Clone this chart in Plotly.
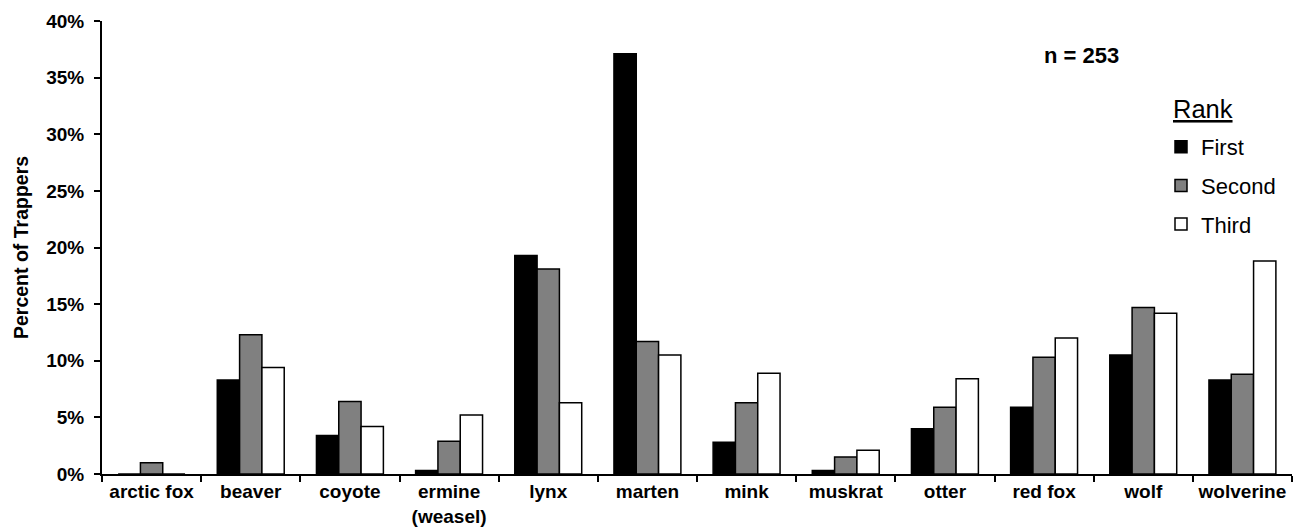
import plotly.graph_objects as go

categories = ["arctic fox", "beaver", "coyote", "ermine<br>(weasel)", "lynx", "marten",
              "mink", "muskrat", "otter", "red fox", "wolf", "wolverine"]
first = [0.0, 8.3, 3.4, 0.3, 19.3, 37.1, 2.8, 0.3, 4.0, 5.9, 10.5, 8.3]
second = [1.0, 12.3, 6.4, 2.9, 18.1, 11.7, 6.3, 1.5, 5.9, 10.3, 14.7, 8.8]
third = [0.0, 9.4, 4.2, 5.2, 6.3, 10.5, 8.9, 2.1, 8.4, 12.0, 14.2, 18.8]
series_names = ["First", "Second", "Third"]
series_colors = ["#000000", "#808080", "#ffffff"]

fig = go.Figure()
for name, vals, col in zip(series_names, [first, second, third], series_colors):
    fig.add_trace(go.Bar(
        x=categories, y=[v / 100 for v in vals], name=name,
        marker=dict(color=col, line=dict(color="#000000", width=1.5)),
        legendgroup=name,
    ))

font_family = "Liberation Sans, Arial, sans-serif"
L, R, T, B = 102, 4, 21, 55
W, H = 1296, 529
pw, ph = W - L - R, H - T - B

def px_x(x):
    return (x - L) / pw

def px_y(y):
    return (H - B - y) / ph

fig.update_layout(
    width=W, height=H,
    margin=dict(l=L, r=R, t=T, b=B, autoexpand=False),
    paper_bgcolor="white", plot_bgcolor="white",
    barmode="group", bargap=0.325, bargroupgap=0,
    font=dict(family=font_family, color="black"),
    showlegend=True,
    legend=dict(
        font=dict(size=22, family=font_family),
        x=px_x(1161), xanchor="left", y=px_y(126), yanchor="top",
        tracegroupgap=7, bgcolor="rgba(0,0,0,0)",
        itemwidth=30,
    ),
    xaxis=dict(
        type="category", showline=True, linecolor="black", linewidth=2,
        ticks="outside", tickson="boundaries", ticklen=6, tickwidth=2, tickcolor="black",
        tickfont=dict(size=19, family=font_family, weight="bold"),
        tickangle=0, automargin=False, ticklabelstandoff=-1,
        showgrid=False, range=[-0.5, 11.5],
    ),
    yaxis=dict(
        range=[0, 0.40], dtick=0.05, tickformat=".0%",
        showline=True, linecolor="black", linewidth=2,
        ticks="outside", ticklen=6, tickwidth=2, tickcolor="black",
        tickfont=dict(size=19, family=font_family, weight="bold"),
        ticklabelstandoff=6, automargin=False,
        showgrid=False, zeroline=False,
        title=dict(text="Percent of Trappers",
                   font=dict(size=19.5, family=font_family, weight="bold"), standoff=12),
    ),
    annotations=[
        dict(text="<b>n = 253</b>", x=px_x(1081), y=px_y(56), xref="paper", yref="paper",
             xanchor="center", yanchor="middle",
             showarrow=False, font=dict(size=22, family=font_family)),
        dict(text="<u>Rank</u>", x=px_x(1203), y=px_y(109), xref="paper", yref="paper",
             xanchor="center", yanchor="middle",
             showarrow=False, font=dict(size=25.5, family=font_family)),
    ],
)

fig.write_html("out.html",
               config={"displayModeBar": False},
               post_script="document.body.style.margin='0';document.body.style.overflow='hidden';")
